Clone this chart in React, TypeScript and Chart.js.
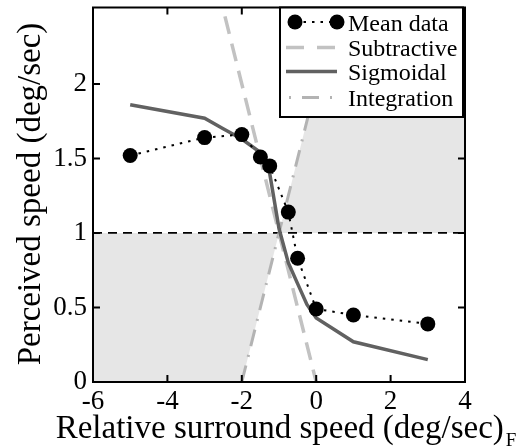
import React, { useEffect, useRef } from "react";
import { Chart, registerables } from "chart.js";

Chart.register(...registerables);

const SERIF = '"Liberation Serif", "Times New Roman", serif';

// Axis ticks
const xTickValues = [-6, -4, -2, 0, 2, 4];
const yTickValues = [0, 0.5, 1, 1.5, 2];
const xMin = -6;
const xMax = 4;
const yMin = 0;
const yMax = 2.513;

// Mean data
const meanX = [-5, -3, -2, -1.5, -1.25, -0.75, -0.5, 0, 1, 3];
const meanY = [1.52, 1.64, 1.66, 1.51, 1.45, 1.14, 0.83, 0.49, 0.45, 0.39];

// Sigmoidal model
const sigX = [-5, -3, -2.5, -2, -1.5, -1.25, -1, -0.75, -0.5, -0.25, 0, 1, 3];
const sigY = [1.86, 1.77, 1.7, 1.63, 1.54, 1.4, 1.03, 0.8, 0.66, 0.52, 0.43, 0.27, 0.15];

// Subtractive model (y = -x)
const subX = [-3, 0];
const subY = [3, 0];

// Integration model (y = x + 2)
const intX = [-2, 1];
const intY = [0, 3];

// Reference line at 1
const refX = [-6, 4];
const refY = [1, 1];

// Shaded regions
const shadeLowX = [-6, -2, -1, -6];
const shadeLowY = [0, 0, 1, 1];
const shadeHighX = [-1, 4, 4, 1];
const shadeHighY = [1, 1, 3, 3];

const legendLabels = ["Mean data", "Subtractive", "Sigmoidal", "Integration"];

const xTitle = "Relative surround speed (deg/sec)";
const xTitleSub = "F";
const yTitle = "Perceived speed (deg/sec)";

const COL_SIG = "#616161";
const COL_SUB = "#c2c2c2";
const COL_INT = "#b3b3b3";
const COL_SHADE = "#e6e6e6";

const zip = (xs: number[], ys: number[]) => xs.map((x, i) => ({ x, y: ys[i] }));

const customPlugin = {
  id: "custom",
  beforeDatasetsDraw(chart: any) {
    const { ctx, chartArea: a, scales } = chart;
    const xs = scales.x;
    const ys = scales.y;
    ctx.save();
    ctx.beginPath();
    ctx.rect(a.left, a.top, a.right - a.left, a.bottom - a.top);
    ctx.clip();
    ctx.fillStyle = COL_SHADE;
    for (const [px, py] of [
      [shadeLowX, shadeLowY],
      [shadeHighX, shadeHighY],
    ]) {
      ctx.beginPath();
      px.forEach((v: number, i: number) => {
        const X = xs.getPixelForValue(v);
        const Y = ys.getPixelForValue(py[i]);
        if (i === 0) ctx.moveTo(X, Y);
        else ctx.lineTo(X, Y);
      });
      ctx.closePath();
      ctx.fill();
    }
    ctx.restore();
  },
  afterDatasetsDraw(chart: any) {
    const { ctx, chartArea: a, scales } = chart;
    const xs = scales.x;
    const ys = scales.y;
    ctx.save();
    // frame
    ctx.strokeStyle = "#000";
    ctx.lineWidth = 2;
    ctx.setLineDash([]);
    ctx.strokeRect(a.left, a.top, a.right - a.left, a.bottom - a.top);
    // inward ticks
    const tl = 7;
    ctx.lineWidth = 2;
    ctx.beginPath();
    xTickValues.forEach((v) => {
      if (v === xMin || v === xMax) return;
      const X = xs.getPixelForValue(v);
      ctx.moveTo(X, a.bottom);
      ctx.lineTo(X, a.bottom - tl);
      ctx.moveTo(X, a.top);
      ctx.lineTo(X, a.top + tl);
    });
    yTickValues.forEach((v) => {
      if (v === yMin) return;
      const Y = ys.getPixelForValue(v);
      ctx.moveTo(a.left, Y);
      ctx.lineTo(a.left + tl, Y);
      ctx.moveTo(a.right, Y);
      ctx.lineTo(a.right - tl, Y);
    });
    ctx.stroke();

    // legend box
    const bx = 280;
    const by = a.top;
    const bw = 463 - 280;
    const bh = 117 - a.top;
    ctx.fillStyle = "#fff";
    ctx.fillRect(bx, by, bw, bh);
    ctx.strokeStyle = "#000";
    ctx.lineWidth = 2;
    ctx.strokeRect(bx, by, bw, bh);

    const rowY = [22, 47.5, 71.5, 97.5];
    const sx0 = 286;
    const sx1 = 337;
    // Mean data sample
    ctx.strokeStyle = "#000";
    ctx.lineWidth = 2;
    ctx.setLineDash([2.5, 6]);
    ctx.beginPath();
    ctx.moveTo(295, rowY[0]);
    ctx.lineTo(337, rowY[0]);
    ctx.stroke();
    ctx.setLineDash([]);
    ctx.fillStyle = "#000";
    [295, 337].forEach((cx) => {
      ctx.beginPath();
      ctx.arc(cx, rowY[0], 7.5, 0, Math.PI * 2);
      ctx.fill();
    });
    // Subtractive
    ctx.strokeStyle = COL_SUB;
    ctx.lineWidth = 3.5;
    ctx.setLineDash([18, 13]);
    ctx.beginPath();
    ctx.moveTo(sx0, rowY[1]);
    ctx.lineTo(sx1, rowY[1]);
    ctx.stroke();
    // Sigmoidal
    ctx.strokeStyle = COL_SIG;
    ctx.lineWidth = 3.5;
    ctx.setLineDash([]);
    ctx.beginPath();
    ctx.moveTo(sx0, rowY[2]);
    ctx.lineTo(sx1, rowY[2]);
    ctx.stroke();
    // Integration
    ctx.strokeStyle = COL_INT;
    ctx.lineWidth = 3;
    ctx.setLineDash([2, 11, 17, 11]);
    ctx.beginPath();
    ctx.moveTo(sx0 + 3, rowY[3]);
    ctx.lineTo(sx1 + 4, rowY[3]);
    ctx.stroke();
    ctx.setLineDash([]);

    ctx.fillStyle = "#000";
    ctx.font = `24px ${SERIF}`;
    ctx.textAlign = "left";
    ctx.textBaseline = "alphabetic";
    legendLabels.forEach((t, i) => {
      ctx.fillText(t, 348, rowY[i] + 8.5);
    });
    ctx.restore();
  },
  afterDraw(chart: any) {
    const { ctx } = chart;
    ctx.save();
    ctx.fillStyle = "#000";
    // x title with subscript
    ctx.font = `33px ${SERIF}`;
    ctx.textAlign = "left";
    ctx.textBaseline = "alphabetic";
    const w = ctx.measureText(xTitle).width;
    ctx.font = `19px ${SERIF}`;
    const fw = ctx.measureText(xTitleSub).width;
    const start = 285 - (w + fw) / 2;
    ctx.font = `33px ${SERIF}`;
    ctx.fillText(xTitle, start, 438);
    ctx.font = `19px ${SERIF}`;
    ctx.fillText(xTitleSub, start + w + 2, 446);
    // y title
    ctx.translate(40, 194);
    ctx.rotate(-Math.PI / 2);
    ctx.font = `33px ${SERIF}`;
    ctx.textAlign = "center";
    ctx.textBaseline = "alphabetic";
    ctx.fillText(yTitle, 0, 0);
    ctx.restore();
  },
};

export default function App() {
  const ref = useRef<HTMLCanvasElement | null>(null);
  useEffect(() => {
    if (!ref.current) return;
    const chart = new Chart(ref.current, {
      type: "scatter",
      data: {
        datasets: [
          {
            label: "Mean data",
            data: zip(meanX, meanY),
            showLine: true,
            borderColor: "#000",
            borderWidth: 2,
            borderDash: [2.5, 6],
            pointRadius: 7.5,
            pointBackgroundColor: "#000",
            pointBorderWidth: 0,
            clip: false,
          } as any,
          {
            label: "Sigmoidal",
            data: zip(sigX, sigY),
            showLine: true,
            borderColor: COL_SIG,
            borderWidth: 3.5,
            pointRadius: 0,
            clip: 0,
          } as any,
          {
            label: "Subtractive",
            data: zip(subX, subY),
            showLine: true,
            borderColor: COL_SUB,
            borderWidth: 3.5,
            borderDash: [18, 10],
            pointRadius: 0,
            clip: 0,
          } as any,
          {
            label: "Integration",
            data: zip(intX, intY),
            showLine: true,
            borderColor: COL_INT,
            borderWidth: 3,
            borderDash: [17, 9, 2, 9],
            pointRadius: 0,
            clip: 0,
          } as any,
          {
            label: "Reference",
            data: zip(refX, refY),
            showLine: true,
            borderColor: "#000",
            borderWidth: 1.8,
            borderDash: [9, 6],
            pointRadius: 0,
            clip: 0,
          } as any,
        ],
      },
      options: {
        responsive: false,
        animation: false,
        events: [],
        layout: { padding: { top: 5, right: 57, left: 0, bottom: 0 } },
        plugins: {
          legend: { display: false },
          tooltip: { enabled: false },
        },
        scales: {
          x: {
            type: "linear",
            min: xMin,
            max: xMax,
            afterBuildTicks: (s: any) => {
              s.ticks = xTickValues.map((v) => ({ value: v }));
            },
            afterFit: (s: any) => {
              s.height = 66;
              s.paddingLeft = 0;
              s.paddingRight = 0;
            },
            ticks: {
              color: "#000",
              font: { family: SERIF, size: 27 },
              padding: 4,
              maxRotation: 0,
              callback: (v: any) => String(v),
            },
            grid: { display: false, drawTicks: false },
            border: { display: false },
          },
          y: {
            type: "linear",
            min: yMin,
            max: yMax,
            afterBuildTicks: (s: any) => {
              s.ticks = yTickValues.map((v) => ({ value: v }));
            },
            afterFit: (s: any) => {
              s.width = 93;
              s.paddingTop = 0;
              s.paddingBottom = 0;
            },
            ticks: {
              color: "#000",
              font: { family: SERIF, size: 27 },
              padding: 6,
              callback: (v: any) => String(v),
            },
            grid: { display: false, drawTicks: false },
            border: { display: false },
          },
        },
      } as any,
      plugins: [customPlugin],
    });
    return () => chart.destroy();
  }, []);
  return (
    <div style={{ position: "fixed", left: 0, top: 0, width: 522, height: 448, background: "#fff" }}>
      <canvas ref={ref} width={522} height={448} style={{ display: "block" }} />
    </div>
  );
}
